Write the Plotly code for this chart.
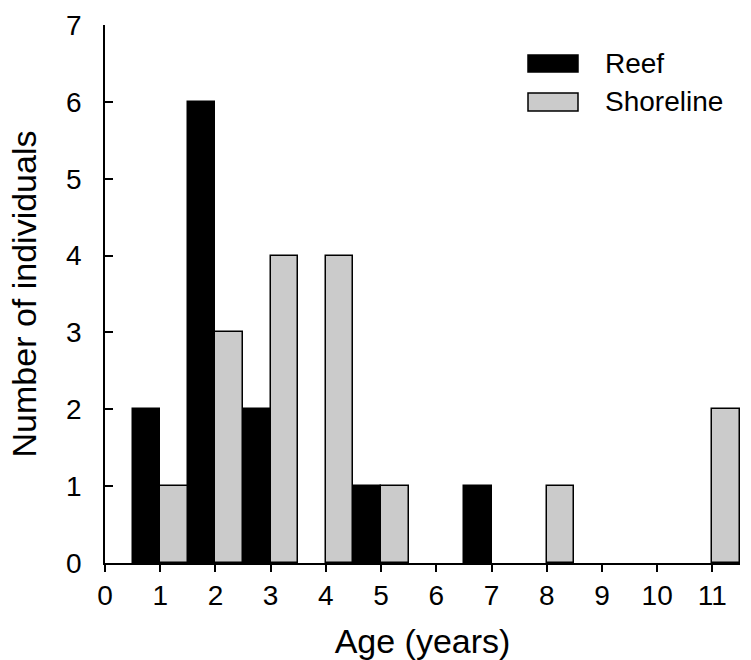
import plotly.graph_objects as go

ages = [1, 2, 3, 4, 5, 6, 7, 8, 9, 10, 11]
reef = [2, 6, 2, 0, 1, 0, 1, 0, 0, 0, 0]
shoreline = [1, 3, 4, 4, 1, 0, 0, 1, 0, 0, 2]
x_ticks = list(range(0, 12))
y_ticks = list(range(0, 8))

FONT = "Liberation Sans, Arial, sans-serif"
FS = 28
W, H = 751, 660
ML, MR, MT, MB = 105, 11, 25, 97

def outline_widths(vals):
    return [1.5 if v > 0 else 0 for v in vals]

fig = go.Figure()
fig.add_trace(go.Bar(x=ages, y=reef, name="Reef",
                     marker=dict(color="black", line=dict(color="black", width=outline_widths(reef)))))
fig.add_trace(go.Bar(x=ages, y=shoreline, name="Shoreline",
                     marker=dict(color="#cbcbcb", line=dict(color="black", width=outline_widths(shoreline)))))

def px2paper(px, py):
    return (px - ML) / (W - ML - MR), 1 - (py - MT) / (H - MT - MB)

shapes = []
annotations = []
legend_items = [("Reef", "black", 55, 72), ("Shoreline", "#cbcbcb", 93, 111)]
for name, col, y0, y1 in legend_items:
    ax0, ay0 = px2paper(528, y1)
    ax1, ay1 = px2paper(578, y0)
    shapes.append(dict(type="rect", xref="paper", yref="paper", x0=ax0, x1=ax1, y0=ay0, y1=ay1,
                       fillcolor=col, line=dict(color="black", width=1.5)))
    tx, ty = px2paper(603, (y0 + y1) / 2)
    annotations.append(dict(text=name, xref="paper", yref="paper", x=tx, y=ty, xanchor="left", yanchor="middle",
                            showarrow=False, font=dict(family=FONT, size=FS, color="black")))

fig.update_layout(
    width=W, height=H,
    margin=dict(l=ML, r=MR, t=MT, b=MB),
    paper_bgcolor="white", plot_bgcolor="white",
    barmode="group", bargap=0, bargroupgap=0,
    showlegend=False,
    font=dict(family=FONT, size=FS, color="black"),
    shapes=shapes, annotations=annotations,
    xaxis=dict(range=[0, 11.5], tickvals=x_ticks, showline=True, linecolor="black", linewidth=1.5,
               ticks="outside", ticklen=7, tickwidth=1.5, tickcolor="black", showgrid=False, zeroline=False,
               automargin=False,
               title=dict(text="Age (years)", standoff=25), tickfont=dict(size=FS)),
    yaxis=dict(range=[0, 7], tickvals=y_ticks, showline=True, linecolor="black", linewidth=1.5,
               ticks="inside", ticklen=8, tickwidth=1.5, tickcolor="black", showgrid=False, zeroline=False,
               automargin=False, ticklabelstandoff=16,
               title=dict(text="Number of individuals", standoff=19), tickfont=dict(size=FS)),
)

fig.write_html("out.html")
